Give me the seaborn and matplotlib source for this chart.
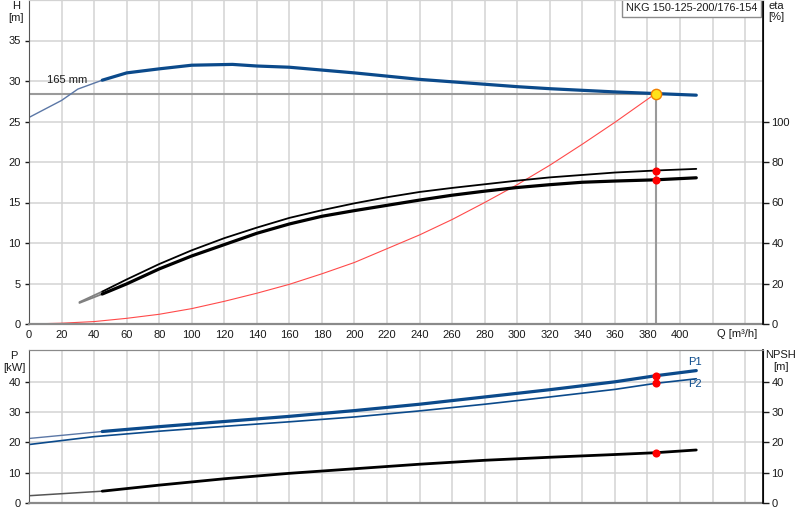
import numpy as np
import pandas as pd
import matplotlib
matplotlib.use("Agg")
import matplotlib.pyplot as plt
import seaborn as sns

# ---------------- data ----------------
title_text = "NKG 150-125-200/176-154"
impeller_text = "165 mm"

# pump head curve H [m]
Q_H = [0, 20, 30, 45, 60, 80, 100, 125, 140, 160, 180, 200, 220, 240, 260, 280, 300, 320, 340, 360, 385, 410]
H_vals = [25.5, 27.6, 29.0, 30.1, 31.0, 31.5, 31.95, 32.05, 31.85, 31.7, 31.35, 31.0, 30.6, 30.2, 29.9, 29.6,
          29.3, 29.05, 28.85, 28.65, 28.45, 28.25]

# system curve (red) [m]
Q_sys = [0, 20, 40, 60, 80, 100, 120, 140, 160, 180, 200, 220, 240, 260, 280, 300, 320, 340, 360, 385]
H_sys = [0, 0.1, 0.3, 0.7, 1.2, 1.9, 2.8, 3.8, 4.9, 6.2, 7.6, 9.3, 11.0, 12.9, 15.0, 17.2, 19.6, 22.2, 24.9, 28.45]

# efficiency curves [%]
Q_eta = [31, 45, 60, 80, 100, 120, 140, 160, 180, 200, 220, 240, 260, 280, 300, 320, 340, 360, 385, 410]
eta_1 = [10.8, 16.0, 22.0, 29.6, 36.4, 42.4, 47.6, 52.4, 56.2, 59.6, 62.6, 65.2, 67.2, 69.0, 70.8, 72.4,
         73.6, 74.8, 75.8, 76.6]
eta_2 = [10.4, 14.8, 19.8, 27.2, 33.6, 39.2, 44.8, 49.4, 53.2, 56.0, 58.6, 61.2, 63.6, 65.6, 67.4, 68.8,
         70.0, 70.6, 71.2, 72.2]

# power curves [kW]
Q_P1 = [0, 45, 80, 120, 160, 200, 240, 280, 320, 360, 385, 410]
P1_vals = [21.3, 23.6, 25.2, 26.9, 28.6, 30.5, 32.6, 35.0, 37.4, 40.0, 42.0, 43.7]
Q_P2 = [0, 40, 80, 120, 160, 200, 240, 280, 320, 360, 385, 410]
P2_vals = [19.3, 21.9, 23.7, 25.3, 26.8, 28.4, 30.4, 32.6, 35.0, 37.5, 39.5, 41.0]

# NPSH [m]
Q_NPSH = [0, 45, 80, 120, 160, 200, 240, 280, 320, 360, 385, 410]
NPSH_vals = [2.4, 3.9, 5.9, 8.0, 9.8, 11.3, 12.8, 14.1, 15.1, 16.0, 16.6, 17.5]

# duty point
duty_Q = 385
duty_H = 28.4
duty_eta = [75.8, 71.2]
duty_P = [42.0, 39.5]
duty_NPSH = 16.6

x_ticks = list(range(0, 441, 20))
x_labels = [str(v) if v <= 400 else "" for v in x_ticks]
H_ticks = [0, 5, 10, 15, 20, 25, 30, 35]
eta_ticks = [0, 20, 40, 60, 80, 100]
P_ticks = [0, 10, 20, 30, 40]
NPSH_ticks = [0, 10, 20, 30, 40]

# ---------------- style ----------------
sns.set_style("white")
plt.rcParams['font.family'] = ['Liberation Sans', 'DejaVu Sans']
plt.rcParams['font.size'] = 8

W, Hpx = 800, 520
fig = plt.figure(figsize=(8, 5.2), dpi=100)

L, R = 29, 763
ax = fig.add_axes([L / W, 1 - 324 / Hpx, (R - L) / W, 324 / Hpx])
ax2 = ax.twinx()
axb = fig.add_axes([L / W, 1 - 503 / Hpx, (R - L) / W, (503 - 350) / Hpx])
axb2 = axb.twinx()

grid_c = '#d3d3d3'
blue = '#0b4a8b'
thin_blue = '#5b77a6'
txt_c = '#1a1a1a'
XMAX = 451
dot_s = 34

# ---------- top panel ----------
ax.set_xlim(0, XMAX)
ax.set_ylim(0, 40)
ax2.set_ylim(0, 160)
ax.set_xticks(x_ticks)
ax.set_xticklabels(x_labels)
ax.set_yticks(H_ticks)
ax2.set_yticks(eta_ticks)
ax.grid(True, color=grid_c, lw=1.1, zorder=0)
ax.set_axisbelow(True)

i45 = Q_H.index(45)
ax.plot([0, duty_Q], [duty_H, duty_H], color='#9a9a9a', lw=1.5, zorder=2)
ax.plot([duty_Q, duty_Q], [0, duty_H], color='#9a9a9a', lw=1.5, zorder=2)
sns.lineplot(x=Q_H[:i45 + 1], y=H_vals[:i45 + 1], ax=ax, color=thin_blue, lw=1.0, sort=False, estimator=None)
sns.lineplot(x=Q_H[i45:], y=H_vals[i45:], ax=ax, color=blue, lw=2.3, sort=False, estimator=None)
sns.lineplot(x=Q_sys, y=H_sys, ax=ax, color='#ff4a4a', lw=0.8, sort=False, estimator=None)

j45 = Q_eta.index(45)
sns.lineplot(x=Q_eta[:j45 + 1], y=eta_1[:j45 + 1], ax=ax2, color='#808080', lw=1.3, sort=False, estimator=None)
sns.lineplot(x=Q_eta[:j45 + 1], y=eta_2[:j45 + 1], ax=ax2, color='#808080', lw=1.3, sort=False, estimator=None)
sns.lineplot(x=Q_eta[j45:], y=eta_1[j45:], ax=ax2, color='black', lw=1.3, sort=False, estimator=None)
sns.lineplot(x=Q_eta[j45:], y=eta_2[j45:], ax=ax2, color='black', lw=2.3, sort=False, estimator=None)
sns.scatterplot(x=[duty_Q, duty_Q], y=duty_eta, ax=ax2, color='#ff0000', s=dot_s, linewidth=0, zorder=5)
# duty point marker (drawn on the twin axis so it sits above all curves; eta axis = 4 x H axis)
sns.scatterplot(x=[duty_Q], y=[duty_H * 4], ax=ax2, color='#ffe21a', s=55, edgecolor='#f08000',
                linewidth=1.0, zorder=7)

ax.text(11, 30.1, impeller_text, fontsize=8, color=txt_c, ha='left', va='center')
ax.text((757 - L) / (R - L), 1 - 3 / 324, title_text, transform=ax.transAxes, ha='right', va='top',
        fontsize=7.8, color=txt_c,
        bbox=dict(boxstyle='square,pad=0.35', fc='white', ec='#8c8c8c', lw=1.0), zorder=10)

for a in (ax, ax2):
    a.set_xlabel("")
    a.set_ylabel("")
ax.tick_params(axis='x', length=0, pad=4, labelsize=8, colors=txt_c)
ax.tick_params(axis='y', length=3, width=1, pad=3, labelsize=8, colors=txt_c, left=True)
ax2.tick_params(axis='y', length=4, width=1, pad=2, labelsize=8, colors=txt_c, right=True)
ax.spines['left'].set_color('#555555')
ax.spines['bottom'].set_color('#8a8a8a')
ax.spines['bottom'].set_linewidth(1.6)
ax.spines['top'].set_color(grid_c)
ax2.spines['top'].set_color(grid_c)
ax2.spines['right'].set_color('black')
ax2.spines['right'].set_linewidth(1.2)
ax2.spines['left'].set_visible(False)
ax2.spines['bottom'].set_visible(False)

ax.text((757 - L) / (R - L), -10 / 324, "Q [m³/h]", transform=ax.transAxes, ha='right', va='center',
        fontsize=8, color=txt_c)

# ---------- bottom panel ----------
axb.set_xlim(0, XMAX)
axb.set_ylim(0, 50.5)
axb2.set_ylim(0, 50.5)
axb.set_xticks(x_ticks)
axb.set_xticklabels([])
axb.set_yticks(P_ticks)
axb2.set_yticks(NPSH_ticks)
axb.grid(True, color=grid_c, lw=1.1, zorder=0)
axb.set_axisbelow(True)

k45 = Q_P1.index(45)
sns.lineplot(x=Q_P2, y=P2_vals, ax=axb, color=blue, lw=1.2, sort=False, estimator=None)
sns.lineplot(x=Q_P1[:k45 + 1], y=P1_vals[:k45 + 1], ax=axb, color=thin_blue, lw=1.0, sort=False, estimator=None)
sns.lineplot(x=Q_P1[k45:], y=P1_vals[k45:], ax=axb, color=blue, lw=2.3, sort=False, estimator=None)
sns.scatterplot(x=[duty_Q, duty_Q], y=duty_P, ax=axb, color='#ff0000', s=dot_s, linewidth=0, zorder=5)

m45 = Q_NPSH.index(45)
sns.lineplot(x=Q_NPSH[:m45 + 1], y=NPSH_vals[:m45 + 1], ax=axb2, color='#555555', lw=1.1, sort=False,
             estimator=None)
sns.lineplot(x=Q_NPSH[m45:], y=NPSH_vals[m45:], ax=axb2, color='black', lw=2.0, sort=False, estimator=None)
sns.scatterplot(x=[duty_Q], y=[duty_NPSH], ax=axb2, color='#ff0000', s=dot_s, linewidth=0, zorder=5)

axb.text(Q_P1[-1] - 1, 46.6, "P1", color=blue, fontsize=8, ha='center', va='center')
axb.text(Q_P2[-1] - 1, 39.2, "P2", color=blue, fontsize=8, ha='center', va='center')

for a in (axb, axb2):
    a.set_xlabel("")
    a.set_ylabel("")
axb.tick_params(axis='x', length=0)
axb.tick_params(axis='y', length=3, width=1, pad=3, labelsize=8, colors=txt_c, left=True)
axb2.tick_params(axis='y', length=4, width=1, pad=2, labelsize=8, colors=txt_c, right=True)
axb.spines['left'].set_color('#555555')
axb.spines['bottom'].set_color('#8a8a8a')
axb.spines['bottom'].set_linewidth(1.6)
axb.spines['top'].set_color('#8a8a8a')
axb2.spines['top'].set_color('#8a8a8a')
axb2.spines['right'].set_color('black')
axb2.spines['right'].set_linewidth(1.2)
axb2.spines['left'].set_visible(False)
axb2.spines['bottom'].set_visible(False)

# axis titles
fs = 8
fig.text(16 / W, 1 - 6 / Hpx, "H", ha='center', va='center', fontsize=fs, color=txt_c)
fig.text(16 / W, 1 - 18 / Hpx, "[m]", ha='center', va='center', fontsize=fs, color=txt_c)
fig.text(776 / W, 1 - 6 / Hpx, "eta", ha='center', va='center', fontsize=fs, color=txt_c)
fig.text(776 / W, 1 - 17 / Hpx, "[%]", ha='center', va='center', fontsize=fs, color=txt_c)
fig.text(14 / W, 1 - 356 / Hpx, "P", ha='center', va='center', fontsize=fs, color=txt_c)
fig.text(14 / W, 1 - 368 / Hpx, "[kW]", ha='center', va='center', fontsize=fs, color=txt_c)
fig.text(781 / W, 1 - 355 / Hpx, "NPSH", ha='center', va='center', fontsize=fs, color=txt_c, zorder=20)
fig.text(781 / W, 1 - 367 / Hpx, "[m]", ha='center', va='center', fontsize=fs, color=txt_c, zorder=20)

fig.savefig("out.png", dpi=100, facecolor='white')
